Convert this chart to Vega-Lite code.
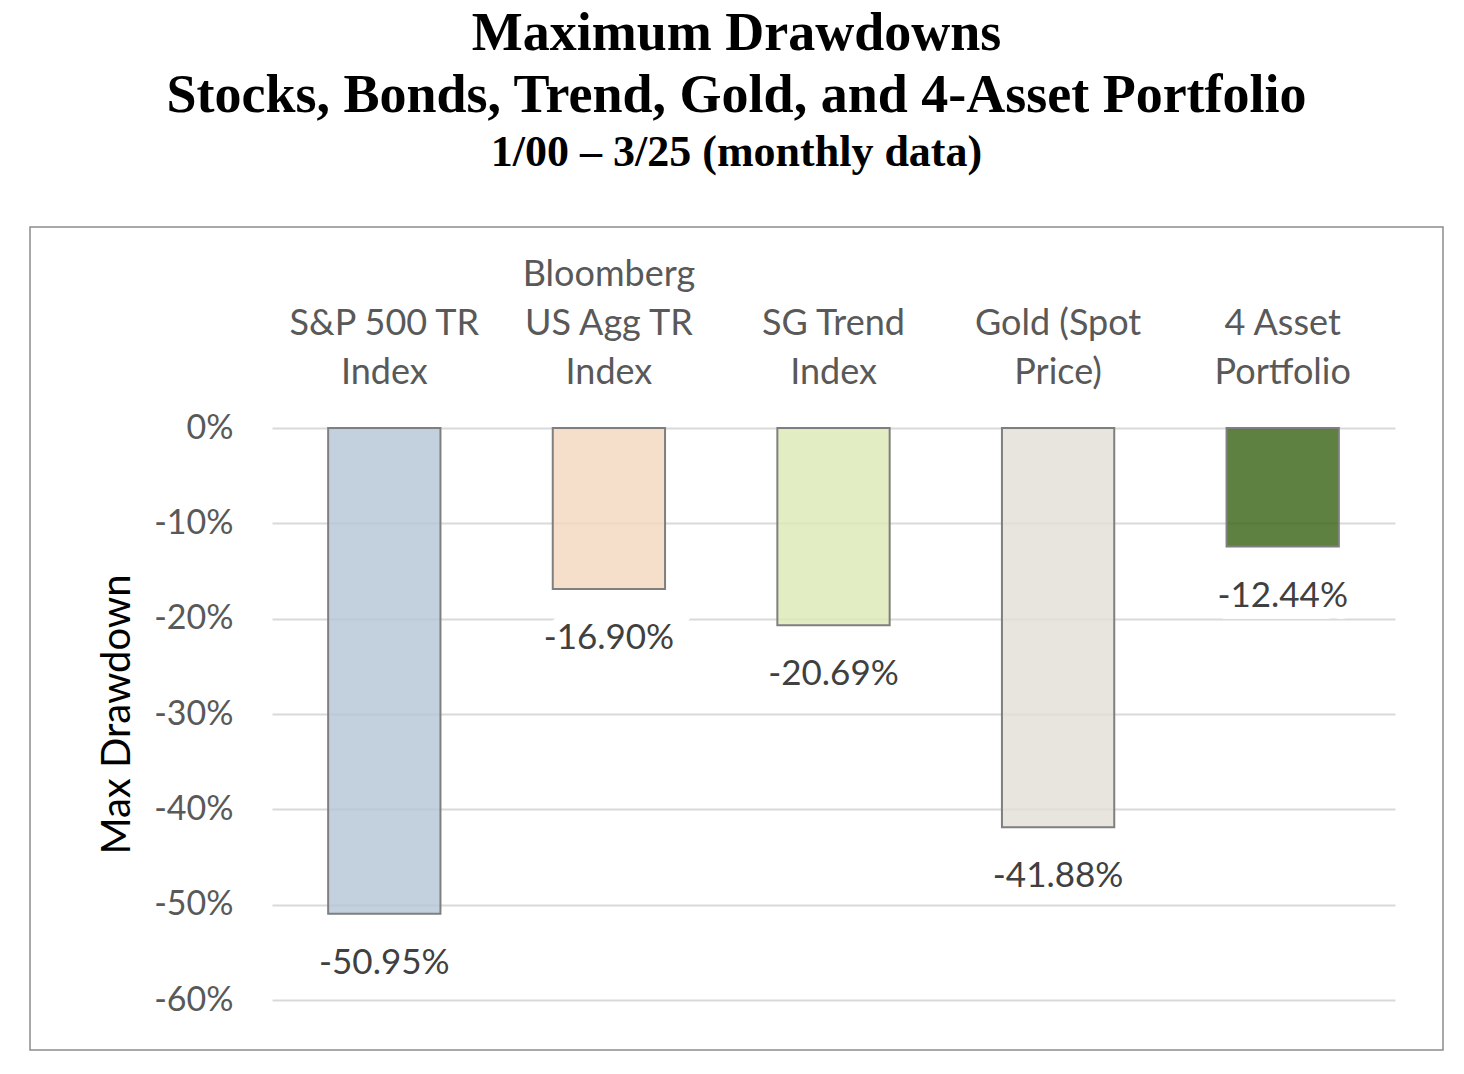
{
  "$schema": "https://vega.github.io/schema/vega-lite/v6.json",
  "width": 1413,
  "height": 823,
  "autosize": {"type": "none"},
  "padding": {"left": 30, "top": 227, "right": 21, "bottom": 24},
  "background": "white",
  "config": {
    "view": {"stroke": "#8C8C8C", "strokeWidth": 1.5},
    "locale": {
      "number": {"decimal": ".", "thousands": ",", "grouping": [3], "currency": ["$", ""], "minus": "-"}
    }
  },
  "title": {
    "text": ["Maximum Drawdowns", "Stocks, Bonds, Trend, Gold, and 4-Asset Portfolio"],
    "subtitle": "1/00 – 3/25 (monthly data)",
    "font": "Liberation Serif",
    "fontSize": 54,
    "fontWeight": "bold",
    "lineHeight": 62,
    "color": "black",
    "subtitleFont": "Liberation Serif",
    "subtitleFontSize": 44,
    "subtitleFontWeight": "bold",
    "subtitleColor": "black",
    "subtitlePadding": 8,
    "anchor": "middle",
    "frame": "bounds",
    "offset": 52
  },
  "data": {
    "values": [
      {"asset": "\nS&P 500 TR\nIndex", "drawdown": -0.5095},
      {"asset": "Bloomberg\nUS Agg TR\nIndex", "drawdown": -0.1690},
      {"asset": "\nSG Trend\nIndex", "drawdown": -0.2069},
      {"asset": "\nGold (Spot\nPrice)", "drawdown": -0.4188},
      {"asset": "\n4 Asset\nPortfolio", "drawdown": -0.1244}
    ]
  },
  "encoding": {
    "x": {
      "field": "asset",
      "type": "nominal",
      "sort": null,
      "scale": {"range": [242, 1365], "paddingInner": 0.5, "paddingOuter": 0.25},
      "axis": {
        "orient": "top",
        "title": null,
        "domain": false,
        "ticks": false,
        "grid": false,
        "labelAngle": 0,
        "labelFont": "Lato",
        "labelFontSize": 36,
        "labelColor": "#595959",
        "labelLineHeight": 49,
        "labelLimit": 0,
        "labelPadding": 8,
        "offset": -74,
        "labelExpr": "split(datum.label, '\\n')"
      }
    },
    "y": {
      "field": "drawdown",
      "type": "quantitative",
      "scale": {"domain": [-0.6, 0], "range": [773, 201], "nice": false},
      "axis": {
        "title": "Max Drawdown",
        "values": [-0.6, -0.5, -0.4, -0.3, -0.2, -0.1, 0],
        "format": ".0%",
        "domain": false,
        "ticks": false,
        "offset": -211,
        "labelPadding": 8,
        "labelFont": "Lato",
        "labelFontSize": 34,
        "labelColor": "#595959",
        "titleFont": "Lato",
        "titleFontSize": 40,
        "titleFontWeight": "normal",
        "titleColor": "black",
        "titlePadding": 16,
        "gridColor": "#D9D9D9",
        "gridWidth": 2
      }
    }
  },
  "layer": [
    {
      "mark": {"type": "bar", "stroke": "#7F7F7F", "strokeWidth": 2, "fillOpacity": 0.8},
      "encoding": {
        "fill": {
          "field": "asset",
          "type": "nominal",
          "sort": null,
          "scale": {"range": ["#B4C6D6", "#F3D7BE", "#DBE8B5", "#E2DDD6", "#366010"]},
          "legend": null
        }
      }
    },
    {
      "mark": {"type": "text", "dy": 49, "baseline": "middle", "font": "Lato", "fontSize": 35, "stroke": "white", "strokeWidth": 24, "fill": "white"},
      "encoding": {"text": {"field": "drawdown", "type": "quantitative", "format": ".2%"}}
    },
    {
      "mark": {"type": "text", "dy": 49, "baseline": "middle", "font": "Lato", "fontSize": 35, "fill": "#404040"},
      "encoding": {"text": {"field": "drawdown", "type": "quantitative", "format": ".2%"}}
    }
  ]
}
